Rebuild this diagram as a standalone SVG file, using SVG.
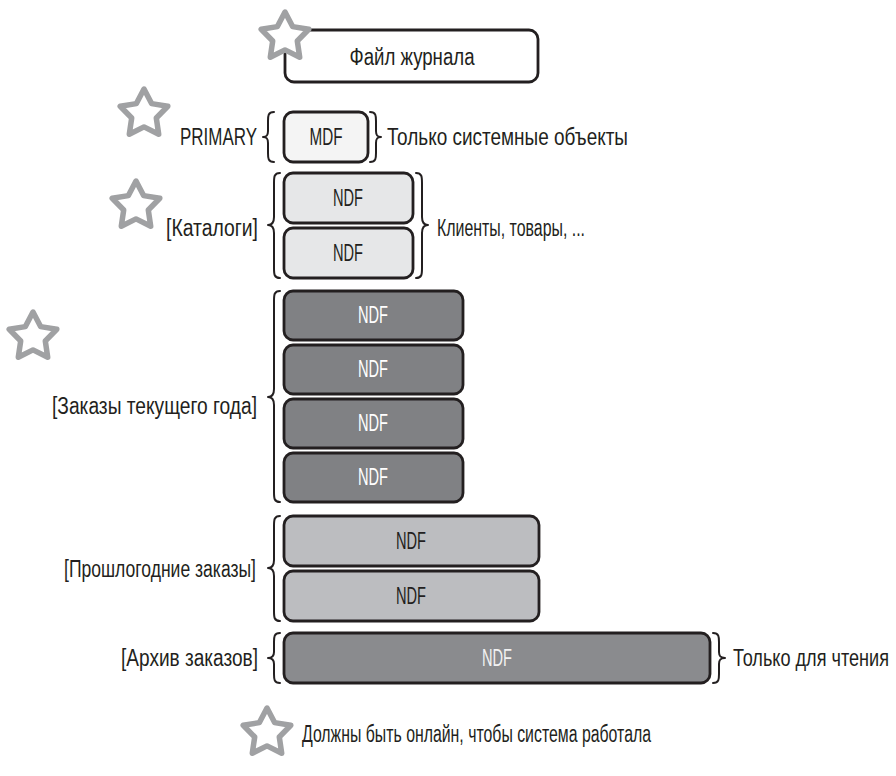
<svg xmlns="http://www.w3.org/2000/svg" xmlns:xlink="http://www.w3.org/1999/xlink" width="896" height="776" viewBox="0 0 896 776">
<style>
text{font-family:"Liberation Sans","DejaVu Sans",sans-serif;font-size:23px;fill:#231f20}
.c{text-anchor:middle}
.w{fill:#ffffff}
.box{stroke:#231f20;stroke-width:2.8}
.mdf{fill:#f4f4f4}
.cat{fill:#e6e7e8}
.cur{fill:#808184}
.old{fill:#bcbdc0}
.arc{fill:#8a8b8e}
.brace{fill:none;stroke:#231f20;stroke-width:2;stroke-linecap:round;stroke-linejoin:round}
.star{fill:#ffffff;stroke:#a0a1a3;stroke-width:5.5;stroke-linejoin:round}
</style>
<defs>
<path id="star" class="star" d="M0,-25 L7.6,-10.4 L23.8,-7.7 L12.3,4 L14.7,20.2 L0,12.9 L-14.7,20.2 L-12.3,4 L-23.8,-7.7 L-7.6,-10.4 Z"/>
</defs>

<g id="log">
<rect class="box" x="285" y="30" width="253" height="52" rx="9" fill="#ffffff"/>
<use xlink:href="#star" href="#star" x="285" y="37"/>
<text class="c" x="412" y="65" textLength="125" lengthAdjust="spacingAndGlyphs">Файл журнала</text>
</g>

<g id="primary">
<use xlink:href="#star" href="#star" x="144" y="114"/>
<text x="180" y="145" textLength="77" lengthAdjust="spacingAndGlyphs">PRIMARY</text>
<rect class="box mdf" x="284" y="112" width="84" height="50" rx="9"/>
<text class="c" x="326" y="145" textLength="33" lengthAdjust="spacingAndGlyphs">MDF</text>
<text x="387" y="145" textLength="241" lengthAdjust="spacingAndGlyphs">Только системные объекты</text>
</g>

<g id="catalogs">
<use xlink:href="#star" href="#star" x="136" y="206"/>
<text x="166" y="236" textLength="92" lengthAdjust="spacingAndGlyphs">[Каталоги]</text>
<rect class="box cat" x="284" y="173" width="129" height="50" rx="9"/>
<text class="c" x="348" y="206" textLength="30" lengthAdjust="spacingAndGlyphs">NDF</text>
<rect class="box cat" x="284" y="228" width="129" height="50" rx="9"/>
<text class="c" x="348" y="261" textLength="30" lengthAdjust="spacingAndGlyphs">NDF</text>
<text x="437" y="236" textLength="148" lengthAdjust="spacingAndGlyphs">Клиенты, товары, ...</text>
</g>

<g id="current">
<use xlink:href="#star" href="#star" x="33" y="337"/>
<text x="52" y="414" textLength="205" lengthAdjust="spacingAndGlyphs">[Заказы текущего года]</text>
<rect class="box cur" x="284" y="291" width="179" height="49" rx="9"/>
<text class="c w" x="373" y="323" textLength="30" lengthAdjust="spacingAndGlyphs">NDF</text>
<rect class="box cur" x="284" y="345" width="179" height="49" rx="9"/>
<text class="c w" x="373" y="377" textLength="30" lengthAdjust="spacingAndGlyphs">NDF</text>
<rect class="box cur" x="284" y="399" width="179" height="49" rx="9"/>
<text class="c w" x="373" y="431" textLength="30" lengthAdjust="spacingAndGlyphs">NDF</text>
<rect class="box cur" x="284" y="453" width="179" height="49" rx="9"/>
<text class="c w" x="373" y="485" textLength="30" lengthAdjust="spacingAndGlyphs">NDF</text>
</g>

<g id="lastyear">
<text x="64" y="577" textLength="192" lengthAdjust="spacingAndGlyphs">[Прошлогодние заказы]</text>
<rect class="box old" x="284" y="516" width="255" height="50" rx="9"/>
<text class="c" x="411" y="549" textLength="30" lengthAdjust="spacingAndGlyphs">NDF</text>
<rect class="box old" x="284" y="571" width="255" height="50" rx="9"/>
<text class="c" x="411" y="604" textLength="30" lengthAdjust="spacingAndGlyphs">NDF</text>
</g>

<g id="archive">
<text x="121" y="666" textLength="137" lengthAdjust="spacingAndGlyphs">[Архив заказов]</text>
<rect class="box arc" x="284" y="633" width="426" height="50" rx="9"/>
<text class="c" x="497" y="666" textLength="30" lengthAdjust="spacingAndGlyphs" style="fill:#f2f2f2">NDF</text>
<text transform="translate(733,666) scale(0.8,1)" x="0" y="0" textLength="195" lengthAdjust="spacingAndGlyphs">Только для чтения</text>
</g>

<g id="legend">
<use xlink:href="#star" href="#star" x="267" y="733"/>
<text x="302" y="742" textLength="349" lengthAdjust="spacingAndGlyphs">Должны быть онлайн, чтобы система работала</text>
</g>

<g id="connectors">
<path class="brace" d="M274,112 C268,112 268,116 268,121 L268,131 C268,135 267,137 263,137 C267,137 268,139 268,143 L268,153 C268,158 268,162 274,162"/>
<path class="brace" d="M280,173 C274,173 274,177 274,183 L274,217 C274,222 272,225 268,225 C272,225 274,228 274,233 L274,268 C274,274 274,278 280,278"/>
<path class="brace" d="M280,291 C274,291 274,295 274,301 L274,389 C274,394 272,397 268,397 C272,397 274,400 274,405 L274,492 C274,498 274,502 280,502"/>
<path class="brace" d="M280,516 C274,516 274,520 274,526 L274,560 C274,565 272,568 268,568 C272,568 274,571 274,576 L274,611 C274,617 274,621 280,621"/>
<path class="brace" d="M280,633 C274,633 274,637 274,642 L274,652 C274,656 272,658 268,658 C272,658 274,660 274,664 L274,674 C274,679 274,683 280,683"/>
<path class="brace" d="M370,112 C376,112 376,116 376,121 L376,131 C376,135 377,137 381,137 C377,137 376,139 376,143 L376,153 C376,158 376,162 370,162"/>
<path class="brace" d="M416,173 C422,173 422,177 422,183 L422,217 C422,222 424,225 428,225 C424,225 422,228 422,233 L422,268 C422,274 422,278 416,278"/>
<path class="brace" d="M713,633 C719,633 719,637 719,642 L719,652 C719,656 720,658 725,658 C720,658 719,660 719,664 L719,674 C719,679 719,683 713,683"/>
</g>
</svg>
